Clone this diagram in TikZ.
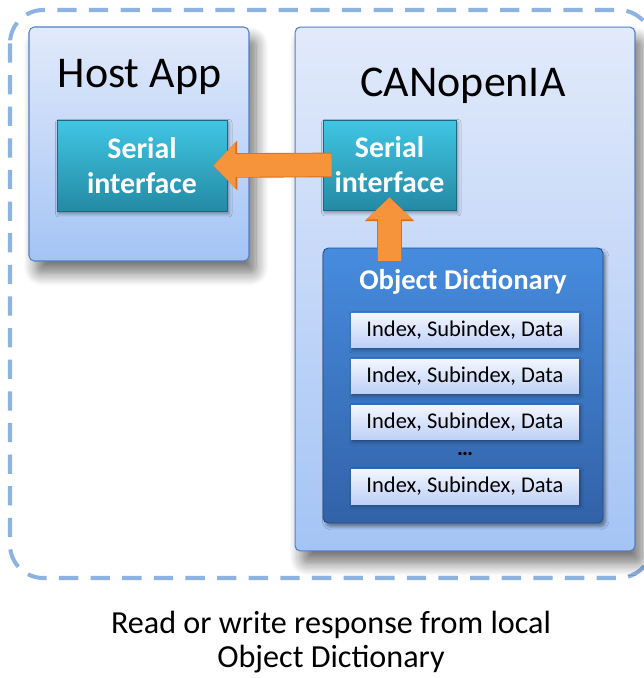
\documentclass[tikz,border=0pt]{standalone}
\usepackage{fontspec}
\setmainfont{Carlito}
\usetikzlibrary{arrows.meta,shadows.blur}

\definecolor{boxtop}{RGB}{226,234,251}
\definecolor{boxbot}{RGB}{164,196,245}
\definecolor{boxline}{RGB}{84,128,196}
\definecolor{sitop}{RGB}{64,198,228}
\definecolor{sibot}{RGB}{36,138,164}
\definecolor{siline}{RGB}{28,104,124}
\definecolor{odtop}{RGB}{70,140,222}
\definecolor{odbot}{RGB}{50,98,168}
\definecolor{odline}{RGB}{40,78,136}
\definecolor{rowtop}{RGB}{242,246,254}
\definecolor{rowbot}{RGB}{190,208,246}
\definecolor{dashblue}{RGB}{141,179,226}
\definecolor{arroworange}{RGB}{245,148,58}
\definecolor{arrowedge}{RGB}{214,110,30}

\tikzset{
    outerbox/.style={rounded corners=3pt, draw=boxline, line width=0.6pt, inner sep=0pt,
        top color=boxtop, bottom color=boxbot,
        blur shadow={shadow xshift=4pt, shadow yshift=-7pt, shadow blur radius=7pt,
            shadow blur steps=10, shadow opacity=55}},
    sibox/.style={draw=siline, line width=0.5pt, inner sep=0pt, align=center, text=white,
        top color=sitop, bottom color=sibot,
        font=\bfseries\fontsize{17}{19.8}\selectfont,
        blur shadow={shadow xshift=1pt, shadow yshift=-1.5pt, shadow blur steps=4, shadow opacity=40}},
    odbox/.style={rounded corners=3pt, draw=odline, line width=0.5pt, inner sep=0pt,
        top color=odtop, bottom color=odbot,
        blur shadow={shadow xshift=1.5pt, shadow yshift=-2pt, shadow blur steps=5, shadow opacity=45}},
    rowbox/.style={inner sep=0pt, minimum width=4.56cm, minimum height=0.7cm,
        top color=rowtop, bottom color=rowbot, font=\fontsize{12.8}{14}\selectfont,
        blur shadow={shadow xshift=0.8pt, shadow yshift=-1pt, shadow blur steps=3, shadow opacity=40}},
    bigarrow/.style={line width=13pt, draw=arroworange,
        -{Triangle[width=25.5pt, length=12.5pt]},
        preaction={draw=arrowedge, line width=14pt, -{Triangle[width=27.5pt, length=13.5pt]}}},
}

\begin{document}
\begin{tikzpicture}[x=0.02cm, y=-0.02cm]

    % outer dashed frame
    \draw[dashblue, line width=2.3pt, dash pattern=on 11pt off 7pt, rounded corners=19pt]
        (10, 10) rectangle (652, 578);

    \node (host) at (139, 144) [outerbox, minimum width=4.4cm, minimum height=4.68cm] {};
    \node (can) at (465, 289) [outerbox, minimum width=6.8cm, minimum height=10.48cm] {};

    \node (host-title) at (139.5, 88) [anchor=base, font=\fontsize{25}{29}\selectfont] {Host App};
    \node (can-title) at (463, 97) [anchor=base, font=\fontsize{25}{29}\selectfont] {CANopenIA};

    \node (host-si) at (142, 165.5) [sibox, minimum width=3.4cm, minimum height=1.82cm] {Serial\\interface};
    \node (can-si) at (389.5, 165) [sibox, minimum width=2.66cm, minimum height=1.8cm] {Serial\\interface};

    \node (od) at (463, 385.5) [odbox, minimum width=5.6cm, minimum height=5.5cm] {};
    \node (od-title) at (463, 290) [anchor=base, text=white, font=\bfseries\fontsize{16.3}{19}\selectfont] {Object Dictionary};

    \node (row-1) at (465, 330.5) [rowbox] {Index, Subindex, Data};
    \node (row-2) at (465, 376.5) [rowbox] {Index, Subindex, Data};
    \node (row-3) at (465, 422.5) [rowbox] {Index, Subindex, Data};
    \node (dots) at (465, 454) [font=\bfseries\fontsize{12.8}{14}\selectfont] {\dots};
    \node (row-4) at (465, 486.5) [rowbox] {Index, Subindex, Data};

    \draw[bigarrow, shorten <=-5.1pt, shorten >=-7.9pt] (can-si.west) -- (host-si.east);
    \draw[bigarrow, shorten <=-7.4pt, shorten >=-7.4pt] (od.north -| can-si.south) -- (can-si.south);

    \node (caption) at (331, 642) [align=center, font=\fontsize{18.3}{19.8}\selectfont]
        {Read or write response from local\\Object Dictionary};

    \pgfresetboundingbox
    \useasboundingbox (0, 0) rectangle (644, 678);

\end{tikzpicture}
\end{document}
